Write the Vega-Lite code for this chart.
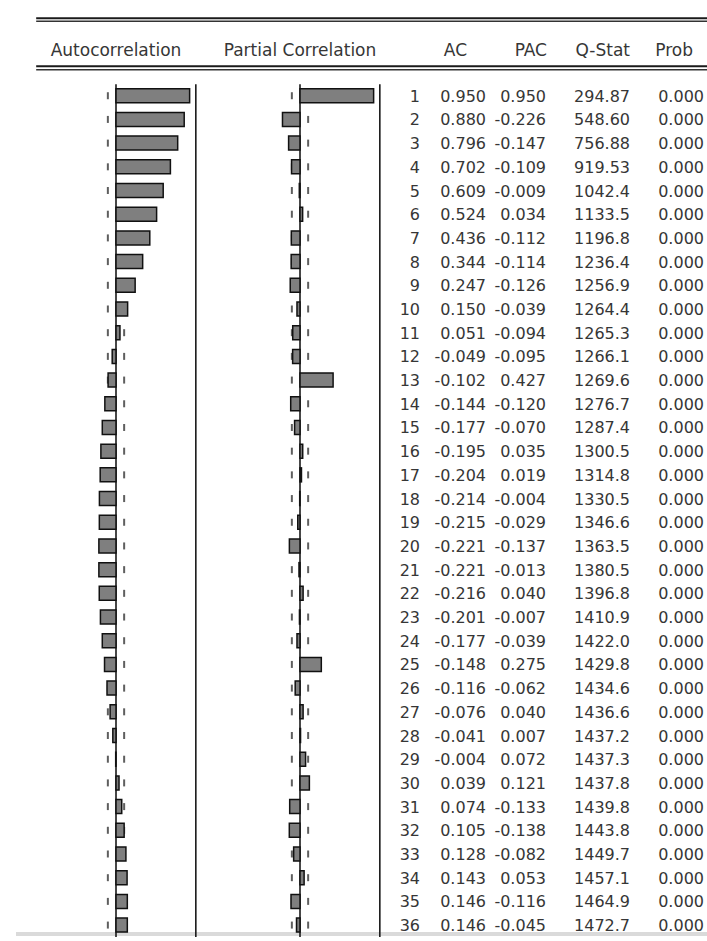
{
  "$schema": "https://vega.github.io/schema/vega-lite/v6.json",
  "width": 707,
  "height": 941,
  "autosize": "none",
  "padding": 0,
  "background": "white",
  "config": {
    "view": {"stroke": null},
    "axis": {"disable": true},
    "locale": {
      "number": {"decimal": ".", "thousands": ",", "grouping": [3], "currency": ["$", ""], "minus": "-"}
    },
    "text": {"font": "DejaVu Sans", "fontSize": 16, "color": "#363636"}
  },
  "datasets": {
    "one": [{}],
    "lags": [
      {"lag": 1, "ac": 0.950, "pac": 0.950, "q": 294.87, "prob": 0.000},
      {"lag": 2, "ac": 0.880, "pac": -0.226, "q": 548.60, "prob": 0.000},
      {"lag": 3, "ac": 0.796, "pac": -0.147, "q": 756.88, "prob": 0.000},
      {"lag": 4, "ac": 0.702, "pac": -0.109, "q": 919.53, "prob": 0.000},
      {"lag": 5, "ac": 0.609, "pac": -0.009, "q": 1042.4, "prob": 0.000},
      {"lag": 6, "ac": 0.524, "pac": 0.034, "q": 1133.5, "prob": 0.000},
      {"lag": 7, "ac": 0.436, "pac": -0.112, "q": 1196.8, "prob": 0.000},
      {"lag": 8, "ac": 0.344, "pac": -0.114, "q": 1236.4, "prob": 0.000},
      {"lag": 9, "ac": 0.247, "pac": -0.126, "q": 1256.9, "prob": 0.000},
      {"lag": 10, "ac": 0.150, "pac": -0.039, "q": 1264.4, "prob": 0.000},
      {"lag": 11, "ac": 0.051, "pac": -0.094, "q": 1265.3, "prob": 0.000},
      {"lag": 12, "ac": -0.049, "pac": -0.095, "q": 1266.1, "prob": 0.000},
      {"lag": 13, "ac": -0.102, "pac": 0.427, "q": 1269.6, "prob": 0.000},
      {"lag": 14, "ac": -0.144, "pac": -0.120, "q": 1276.7, "prob": 0.000},
      {"lag": 15, "ac": -0.177, "pac": -0.070, "q": 1287.4, "prob": 0.000},
      {"lag": 16, "ac": -0.195, "pac": 0.035, "q": 1300.5, "prob": 0.000},
      {"lag": 17, "ac": -0.204, "pac": 0.019, "q": 1314.8, "prob": 0.000},
      {"lag": 18, "ac": -0.214, "pac": -0.004, "q": 1330.5, "prob": 0.000},
      {"lag": 19, "ac": -0.215, "pac": -0.029, "q": 1346.6, "prob": 0.000},
      {"lag": 20, "ac": -0.221, "pac": -0.137, "q": 1363.5, "prob": 0.000},
      {"lag": 21, "ac": -0.221, "pac": -0.013, "q": 1380.5, "prob": 0.000},
      {"lag": 22, "ac": -0.216, "pac": 0.040, "q": 1396.8, "prob": 0.000},
      {"lag": 23, "ac": -0.201, "pac": -0.007, "q": 1410.9, "prob": 0.000},
      {"lag": 24, "ac": -0.177, "pac": -0.039, "q": 1422.0, "prob": 0.000},
      {"lag": 25, "ac": -0.148, "pac": 0.275, "q": 1429.8, "prob": 0.000},
      {"lag": 26, "ac": -0.116, "pac": -0.062, "q": 1434.6, "prob": 0.000},
      {"lag": 27, "ac": -0.076, "pac": 0.040, "q": 1436.6, "prob": 0.000},
      {"lag": 28, "ac": -0.041, "pac": 0.007, "q": 1437.2, "prob": 0.000},
      {"lag": 29, "ac": -0.004, "pac": 0.072, "q": 1437.3, "prob": 0.000},
      {"lag": 30, "ac": 0.039, "pac": 0.121, "q": 1437.8, "prob": 0.000},
      {"lag": 31, "ac": 0.074, "pac": -0.133, "q": 1439.8, "prob": 0.000},
      {"lag": 32, "ac": 0.105, "pac": -0.138, "q": 1443.8, "prob": 0.000},
      {"lag": 33, "ac": 0.128, "pac": -0.082, "q": 1449.7, "prob": 0.000},
      {"lag": 34, "ac": 0.143, "pac": 0.053, "q": 1457.1, "prob": 0.000},
      {"lag": 35, "ac": 0.146, "pac": -0.116, "q": 1464.9, "prob": 0.000},
      {"lag": 36, "ac": 0.146, "pac": -0.045, "q": 1472.7, "prob": 0.000}
    ]
  },
  "data": {"name": "lags"},
  "resolve": {"scale": {"x": "independent"}},
  "layer": [
    {
      "layer": [
        {
          "data": {"name": "one"},
          "mark": {"type": "rule", "color": "#1a1a1a", "strokeWidth": 2},
          "encoding": {
            "x": {"datum": -1.03, "type": "quantitative", "scale": {"domain": [-1.03, 1.03], "range": [23, 209]}},
            "x2": {"value": "width"},
            "y": {"datum": -2.265, "type": "quantitative", "scale": {"domain": [-2.829, 36.461], "reverse": true, "nice": false, "zero": false}}
          }
        },
        {
          "data": {"name": "one"},
          "mark": {"type": "rule", "color": "#333333", "strokeWidth": 1.5},
          "encoding": {
            "x": {"datum": -1.03, "type": "quantitative"},
            "x2": {"value": "width"},
            "y": {"datum": -2.14, "type": "quantitative"}
          }
        },
        {
          "data": {"name": "one"},
          "mark": {"type": "rule", "color": "#1a1a1a", "strokeWidth": 2},
          "encoding": {
            "x": {"datum": -1.03, "type": "quantitative"},
            "x2": {"value": "width"},
            "y": {"datum": -0.24, "type": "quantitative"}
          }
        },
        {
          "data": {"name": "one"},
          "mark": {"type": "rule", "color": "#333333", "strokeWidth": 1.5},
          "encoding": {
            "x": {"datum": -1.03, "type": "quantitative"},
            "x2": {"value": "width"},
            "y": {"datum": -0.094, "type": "quantitative"}
          }
        },
        {
          "data": {"name": "one"},
          "mark": {"type": "rule", "color": "#dadada", "strokeWidth": 4},
          "encoding": {
            "x": {"datum": -1.29, "type": "quantitative"},
            "x2": {"value": "width"},
            "y": {"datum": 36.38, "type": "quantitative"}
          }
        },
        {
          "data": {"name": "one"},
          "mark": {"type": "text", "align": "center", "baseline": "alphabetic", "fontSize": 17},
          "encoding": {
            "x": {"datum": 0, "type": "quantitative"},
            "y": {"datum": -0.658, "type": "quantitative"},
            "text": {"value": "Autocorrelation"}
          }
        },
        {
          "data": {"name": "one"},
          "mark": {"type": "rule", "color": "#1a1a1a", "strokeWidth": 1.6},
          "encoding": {
            "x": {"datum": 0, "type": "quantitative"},
            "y": {"datum": 0.511, "type": "quantitative"},
            "y2": {"datum": 36.5}
          }
        },
        {
          "data": {"name": "one"},
          "mark": {"type": "rule", "color": "#1a1a1a", "strokeWidth": 1.6},
          "encoding": {
            "x": {"datum": 1.03, "type": "quantitative"},
            "y": {"datum": 0.511, "type": "quantitative"},
            "y2": {"datum": 36.5}
          }
        },
        {
          "mark": {"type": "tick", "orient": "vertical", "size": 7, "thickness": 2, "color": "#1a1a1a"},
          "encoding": {
            "x": {"datum": -0.105, "type": "quantitative"},
            "y": {"field": "lag", "type": "quantitative"}
          }
        },
        {
          "mark": {"type": "tick", "orient": "vertical", "size": 7, "thickness": 2, "color": "#1a1a1a"},
          "encoding": {
            "x": {"datum": 0.105, "type": "quantitative"},
            "y": {"field": "lag", "type": "quantitative"}
          }
        },
        {
          "mark": {"type": "bar", "orient": "horizontal", "size": 14, "fill": "#7f7f7f", "stroke": "#111111", "strokeWidth": 1.5},
          "encoding": {
            "x": {"field": "ac", "type": "quantitative"},
            "x2": {"datum": 0},
            "y": {"field": "lag", "type": "quantitative"}
          }
        }
      ]
    },
    {
      "layer": [
        {
          "data": {"name": "one"},
          "mark": {"type": "text", "align": "center", "baseline": "alphabetic", "fontSize": 17},
          "encoding": {
            "x": {"datum": 0, "type": "quantitative", "scale": {"domain": [-1.03, 1.03], "range": [207, 393]}},
            "y": {"datum": -0.658, "type": "quantitative"},
            "text": {"value": "Partial Correlation"}
          }
        },
        {
          "data": {"name": "one"},
          "mark": {"type": "rule", "color": "#1a1a1a", "strokeWidth": 1.6},
          "encoding": {
            "x": {"datum": 0, "type": "quantitative"},
            "y": {"datum": 0.511, "type": "quantitative"},
            "y2": {"datum": 36.5}
          }
        },
        {
          "data": {"name": "one"},
          "mark": {"type": "rule", "color": "#1a1a1a", "strokeWidth": 1.6},
          "encoding": {
            "x": {"datum": 1.03, "type": "quantitative"},
            "y": {"datum": 0.511, "type": "quantitative"},
            "y2": {"datum": 36.5}
          }
        },
        {
          "mark": {"type": "tick", "orient": "vertical", "size": 7, "thickness": 2, "color": "#1a1a1a"},
          "encoding": {
            "x": {"datum": -0.105, "type": "quantitative"},
            "y": {"field": "lag", "type": "quantitative"}
          }
        },
        {
          "mark": {"type": "tick", "orient": "vertical", "size": 7, "thickness": 2, "color": "#1a1a1a"},
          "encoding": {
            "x": {"datum": 0.105, "type": "quantitative"},
            "y": {"field": "lag", "type": "quantitative"}
          }
        },
        {
          "mark": {"type": "bar", "orient": "horizontal", "size": 14, "fill": "#7f7f7f", "stroke": "#111111", "strokeWidth": 1.5},
          "encoding": {
            "x": {"field": "pac", "type": "quantitative"},
            "x2": {"datum": 0},
            "y": {"field": "lag", "type": "quantitative"}
          }
        }
      ]
    },
    {
      "layer": [
        {
          "data": {"name": "one"},
          "mark": {"type": "text", "align": "right", "baseline": "alphabetic", "fontSize": 17, "dx": -24},
          "encoding": {
            "x": {"datum": "AC", "type": "nominal", "scale": {"type": "point", "domain": ["lag", "AC", "PAC", "Q-Stat", "Prob"], "range": [420, 704], "padding": 0}},
            "y": {"datum": -0.658, "type": "quantitative"},
            "text": {"value": "AC"}
          }
        },
        {
          "data": {"name": "one"},
          "mark": {"type": "text", "align": "right", "baseline": "alphabetic", "fontSize": 17, "dx": -15},
          "encoding": {
            "x": {"datum": "PAC", "type": "nominal"},
            "y": {"datum": -0.658, "type": "quantitative"},
            "text": {"value": "PAC"}
          }
        },
        {
          "data": {"name": "one"},
          "mark": {"type": "text", "align": "right", "baseline": "alphabetic", "fontSize": 17, "dx": -3},
          "encoding": {
            "x": {"datum": "Q-Stat", "type": "nominal"},
            "y": {"datum": -0.658, "type": "quantitative"},
            "text": {"value": "Q-Stat"}
          }
        },
        {
          "data": {"name": "one"},
          "mark": {"type": "text", "align": "right", "baseline": "alphabetic", "fontSize": 17, "dx": -11},
          "encoding": {
            "x": {"datum": "Prob", "type": "nominal"},
            "y": {"datum": -0.658, "type": "quantitative"},
            "text": {"value": "Prob"}
          }
        },
        {
          "mark": {"type": "text", "align": "right", "baseline": "middle", "dy": 1},
          "encoding": {
            "x": {"datum": "lag", "type": "nominal"},
            "y": {"field": "lag", "type": "quantitative"},
            "text": {"field": "lag", "type": "quantitative", "format": "d"}
          }
        },
        {
          "mark": {"type": "text", "align": "right", "baseline": "middle", "dy": 1, "dx": -5},
          "encoding": {
            "x": {"datum": "AC", "type": "nominal"},
            "y": {"field": "lag", "type": "quantitative"},
            "text": {"field": "ac", "type": "quantitative", "format": ".3f"}
          }
        },
        {
          "mark": {"type": "text", "align": "right", "baseline": "middle", "dy": 1, "dx": -16},
          "encoding": {
            "x": {"datum": "PAC", "type": "nominal"},
            "y": {"field": "lag", "type": "quantitative"},
            "text": {"field": "pac", "type": "quantitative", "format": ".3f"}
          }
        },
        {
          "mark": {"type": "text", "align": "right", "baseline": "middle", "dy": 1, "dx": -3},
          "encoding": {
            "x": {"datum": "Q-Stat", "type": "nominal"},
            "y": {"field": "lag", "type": "quantitative"},
            "text": {"field": "q", "type": "quantitative", "format": ".5r"}
          }
        },
        {
          "mark": {"type": "text", "align": "right", "baseline": "middle", "dy": 1},
          "encoding": {
            "x": {"datum": "Prob", "type": "nominal"},
            "y": {"field": "lag", "type": "quantitative"},
            "text": {"field": "prob", "type": "quantitative", "format": ".3f"}
          }
        }
      ]
    }
  ]
}
